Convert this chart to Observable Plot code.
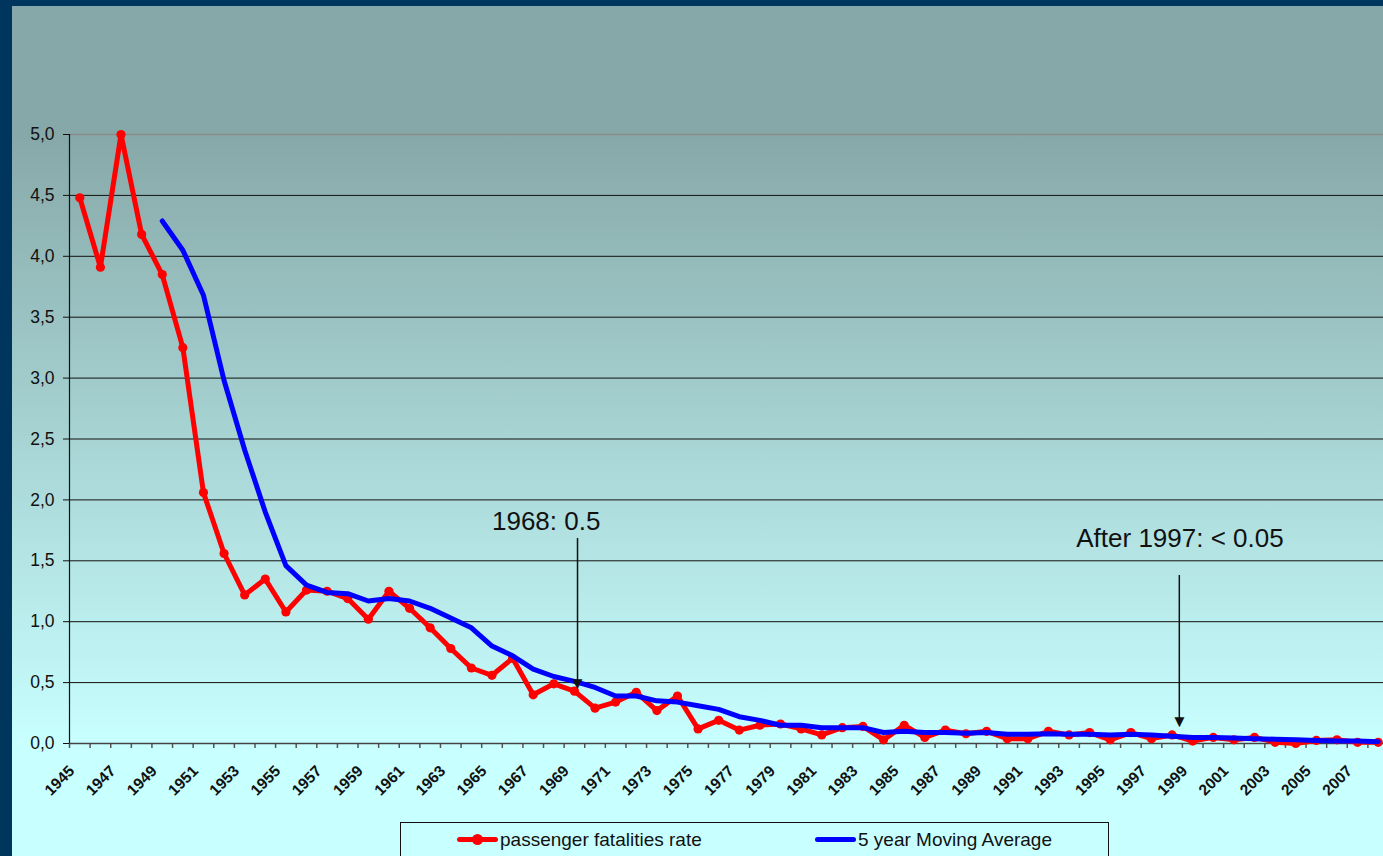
<!DOCTYPE html>
<html>
<head>
<meta charset="utf-8">
<script src="https://cdn.jsdelivr.net/npm/d3@7"></script>
<script src="https://cdn.jsdelivr.net/npm/@observablehq/plot@0.6"></script>
<style>
  html, body { margin: 0; padding: 0; width: 1383px; height: 856px; overflow: hidden; background: #00365e; }
  #panel { position: absolute; left: 12px; top: 6px; width: 1400px; height: 860px;
    background: linear-gradient(to bottom, #87a8a8 0px, #87a8a8 128px, #c8ffff 737px, #c8ffff 860px); }
  #chart { position: absolute; left: 0; top: 0; }
  #legend { position: absolute; left: 400px; top: 822px; width: 707px; height: 33px; border: 1px solid #111;
    font-family: "Liberation Sans", Arial, sans-serif; font-size: 19px; color: #111; }
  .item { position: absolute; top: 0; height: 33px; line-height: 33px; white-space: nowrap; }
  .sw { position: absolute; top: 14px; height: 5px; width: 41px; border-radius: 2.5px; }
  .dotm { position: absolute; top: 11px; width: 11px; height: 11px; border-radius: 5.5px; background: #ff0000; }
</style>
</head>
<body>
<div id="panel"></div>
<div id="chart"></div>
<div id="legend">
  <div class="sw" style="left:56px;background:#ff0000"></div>
  <div class="dotm" style="left:71px"></div>
  <div class="item" style="left:99px">passenger fatalities rate</div>
  <div class="sw" style="left:414px;background:#0000ff"></div>
  <div class="item" style="left:457px">5 year Moving Average</div>
</div>
<script>
// ---- data ----
const years = [1945,1946,1947,1948,1949,1950,1951,1952,1953,1954,
  1955,1956,1957,1958,1959,1960,1961,1962,1963,1964,
  1965,1966,1967,1968,1969,1970,1971,1972,1973,1974,
  1975,1976,1977,1978,1979,1980,1981,1982,1983,1984,
  1985,1986,1987,1988,1989,1990,1991,1992,1993,1994,
  1995,1996,1997,1998,1999,2000,2001,2002,2003,2004,
  2005,2006,2007,2008];
const fatalityRate = [4.48,3.91,5.00,4.18,3.85,3.25,2.06,1.56,1.22,1.35,
  1.08,1.26,1.25,1.19,1.02,1.25,1.11,0.95,0.78,0.62,
  0.56,0.70,0.40,0.49,0.43,0.29,0.34,0.42,0.27,0.39,
  0.12,0.19,0.11,0.15,0.16,0.12,0.07,0.13,0.14,0.03,
  0.15,0.05,0.11,0.08,0.10,0.04,0.04,0.10,0.07,0.09,
  0.03,0.09,0.04,0.07,0.02,0.05,0.03,0.05,0.01,0.00,
  0.025,0.03,0.01,0.01];
const maYears = years.slice(4); // 1949-2008
const movingAverage = [4.29,4.05,3.68,2.98,2.41,1.90,1.46,1.30,1.24,1.23,
  1.17,1.19,1.17,1.11,1.03,0.95,0.80,0.72,0.61,0.55,
  0.51,0.46,0.39,0.39,0.35,0.34,0.31,0.28,0.22,0.19,
  0.15,0.15,0.13,0.13,0.13,0.09,0.10,0.09,0.09,0.085,
  0.09,0.075,0.075,0.08,0.075,0.075,0.07,0.075,0.07,0.06,
  0.05,0.05,0.045,0.04,0.035,0.03,0.025,0.02,0.02,0.015];
const yTicks = [0,0.5,1,1.5,2,2.5,3,3.5,4,4.5,5];
const xLabelYears = [1945,1947,1949,1951,1953,1955,1957,1959,1961,1963,1965,1967,1969,1971,1973,1975,
  1977,1979,1981,1983,1985,1987,1989,1991,1993,1995,1997,1999,2001,2003,2005,2007];
const annLabels = ["1968: 0.5", "After 1997: < 0.05"];
const annTextYear = [1965.0, 1993.35];
const annTextValue = [1.753, 1.612];
const annArrowYear = [1969.15, 1998.35];
const annArrowFrom = [1.683, 1.379];
const annArrowTo = [0.476, 0.162];

// ---- derived tables ----
const rateData = years.map((y, i) => ({year: y, value: fatalityRate[i]}));
const maData = maYears.map((y, i) => ({year: y, value: movingAverage[i]}));
const ann = annLabels.map((t, i) => ({text: t, tx: annTextYear[i], ty: annTextValue[i],
  ax: annArrowYear[i], a1: annArrowFrom[i], a2: annArrowTo[i]}));
const boundaries = years.map(y => y - 0.5).concat([years[years.length - 1] + 0.5]);
const fmt = d => d.toFixed(1).replace(".", ",");
const FONT = '"Liberation Sans", Arial, sans-serif';

const chart = Plot.plot({
  width: 1383,
  height: 800,
  marginTop: 134,
  marginBottom: 57,
  marginLeft: 69,
  marginRight: 0,
  style: {background: "transparent", overflow: "hidden", fontFamily: FONT, color: "#111", maxWidth: "none"},
  x: {type: "linear", domain: [boundaries[0], boundaries[boundaries.length - 1]], range: [69, 1388], axis: null},
  y: {domain: [0, 5], range: [743, 134], axis: null},
  marks: [
    Plot.ruleY(yTicks.filter(d => d > 0 && d < 5), {stroke: "#111", strokeWidth: 1}),
    Plot.ruleY([5], {stroke: "#8a8a8a", strokeWidth: 1.5}),
    Plot.axisX({ticks: boundaries, tickSize: 5, tickFormat: () => "", stroke: "#555", strokeWidth: 1.5, label: null}),
    Plot.ruleY([0], {stroke: "#444", strokeWidth: 1.5}),
    Plot.ruleX([boundaries[0]], {y1: 0, y2: 5, stroke: "#111", strokeWidth: 1.2}),
    Plot.axisY({ticks: yTicks, tickSize: 6, tickFormat: () => "", stroke: "#111", label: null}),
    Plot.text(yTicks, {x: boundaries[0], y: d => d, text: fmt, textAnchor: "end", dx: -15, fontSize: 17.5, fill: "#111"}),
    Plot.text(xLabelYears, {x: d => d, y: 0, text: d => String(d), rotate: -45, textAnchor: "end",
      dx: -8, dy: 25, fontSize: 15.5, fontWeight: "bold", fill: "#111"}),
    Plot.line(rateData, {x: "year", y: "value", stroke: "#ff0000", strokeWidth: 5, strokeLinejoin: "round"}),
    Plot.dot(rateData, {x: "year", y: "value", r: 4.6, fill: "#ff0000"}),
    Plot.line(maData, {x: "year", y: "value", stroke: "#0000ff", strokeWidth: 5, strokeLinejoin: "round"}),
    Plot.ruleX(ann, {x: "ax", y1: "a1", y2: "a2", stroke: "#111", strokeWidth: 1.5}),
    Plot.text(ann, {x: "ax", y: "a2", text: () => "\u25BC", lineAnchor: "bottom", fontSize: 17, fill: "#111", dy: 3}),
    Plot.text(ann, {x: "tx", y: "ty", text: "text", textAnchor: "start", lineAnchor: "bottom", fontSize: 26, fill: "#111"})
  ]
});
document.getElementById("chart").appendChild(chart);
</script>
</body>
</html>
